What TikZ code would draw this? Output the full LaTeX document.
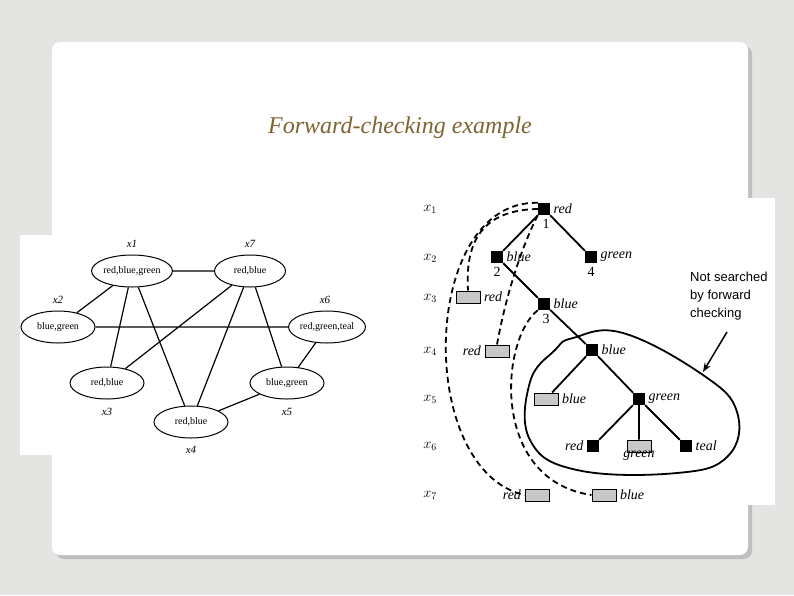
\documentclass[tikz,border=0pt]{standalone}
\usepackage{fontspec}
\setmainfont{Liberation Serif}
\newfontfamily\lsans{Liberation Sans}
\usetikzlibrary{arrows.meta,shapes.geometric}
\definecolor{titlec}{HTML}{7E6432}
\definecolor{bgc}{HTML}{E4E4E2}
\definecolor{boxg}{HTML}{C8C8C8}
\begin{document}
\begin{tikzpicture}[x=1pt,y=-1pt,
  ell/.style={draw,ellipse,line width=1pt,minimum width=74pt,minimum height=32pt,inner sep=0pt,font=\fontsize{10}{10}\selectfont},
  vlab/.style={font=\fontsize{11}{11}\selectfont\itshape},
  bsq/.style={fill=black,minimum size=12pt,inner sep=0pt},
  gsq/.style={draw,line width=1pt,fill=boxg,minimum width=24pt,minimum height=12pt,inner sep=0pt},
  tl/.style={font=\fontsize{14}{14}\selectfont\itshape},
  num/.style={font=\fontsize{14}{14}\selectfont},
  rowl/.style={font=\fontsize{14}{14}\selectfont},
  edge/.style={line width=1.2pt},
  tedge/.style={line width=1.8pt},
  dedge/.style={line width=1.8pt,dash pattern=on 6pt off 4pt}]
\useasboundingbox (0,0) rectangle (794,595);
\fill[bgc] (0,0) rectangle (794,595);
\fill[black!25,rounded corners=8pt] (56,46) rectangle (752,559);
\fill[white,rounded corners=8pt] (52,42) rectangle (748,555);
\node[font=\fontsize{24}{24}\selectfont\itshape,text=titlec] (title) at (400,128) {Forward-checking example};
% left panel
\fill[white] (20,235) rectangle (365,455);
\node[ell] (a1) at (132,271) {red,blue,green};
\node[ell,minimum width=71pt] (a7) at (250,271) {red,blue};
\node[ell] (a2) at (58,327) {blue,green};
\node[ell,minimum width=76pt] (a6) at (327,327) {red,green,teal};
\node[ell] (a3) at (107,383) {red,blue};
\node[ell] (a5) at (287,383) {blue,green};
\node[ell] (a4) at (191,422) {red,blue};
\node[vlab] (l1) at (132,244) {x1};
\node[vlab] (l7) at (250,244) {x7};
\node[vlab] (l2) at (58,300) {x2};
\node[vlab] (l6) at (325,300) {x6};
\node[vlab] (l3) at (107,412) {x3};
\node[vlab] (l5) at (287,412) {x5};
\node[vlab] (l4) at (191,450) {x4};
\draw[edge] (a1)--(a7) (a1)--(a2) (a1)--(a3) (a1)--(a4) (a7)--(a3) (a7)--(a4) (a7)--(a5) (a2)--(a6) (a6)--(a5) (a5)--(a4);
% right panel
\fill[white] (415,198) rectangle (775,505);
\foreach \i/\y in {1/209,2/258,3/298,4/351,5/399,6/446,7/495}
  \node[rowl] (r\i) at (430,\y) {$x_{\i}$};
\node[bsq] (n1) at (544,209) {};
\node[bsq] (n2) at (497,257) {};
\node[bsq] (n4) at (591,257) {};
\node[gsq] (g3) at (468,297) {};
\node[bsq] (n3) at (544,304) {};
\node[gsq] (g4) at (497,351) {};
\node[bsq] (n5) at (592,350) {};
\node[gsq] (g5) at (546,399) {};
\node[bsq] (n6) at (639,399) {};
\node[bsq] (n7) at (593,446) {};
\node[gsq] (g6) at (639,446) {};
\node[bsq] (n8) at (686,446) {};
\node[gsq] (g7a) at (537,495) {};
\node[gsq] (g7b) at (604,495) {};
\node[tl,anchor=west] at (n1.east) {red};
\node[num] at (546,224) {1};
\node[tl,anchor=west] at (n2.east) {blue};
\node[num] at (497,272) {2};
\node[tl,anchor=west] at (n4.east) {green};
\node[num] at (591,272) {4};
\node[tl,anchor=west] at (g3.east) {red};
\node[tl,anchor=west] at (n3.east) {blue};
\node[num] at (546,319) {3};
\node[tl,anchor=east] at (g4.west) {red};
\node[tl,anchor=west] at (n5.east) {blue};
\node[tl,anchor=west] at (g5.east) {blue};
\node[tl,anchor=west] at (n6.east) {green};
\node[tl,anchor=east] at (n7.west) {red};
\node[tl,anchor=north,inner sep=0pt] at ([yshift=2pt]g6.south) {green};
\node[tl,anchor=west] at (n8.east) {teal};
\node[tl,anchor=east] at (g7a.west) {red};
\node[tl,anchor=west] at (g7b.east) {blue};
\draw[tedge] (n1)--(n2) (n1)--(n4) (n2)--(n3) (n3)--(n5) (n5)--(g5) (n5)--(n6) (n6)--(n7) (n6)--(g6) (n6)--(n8);
\draw[dedge] (n1.west) .. controls (472,210) and (466,255) .. (g3.north);
\draw[dedge] (n1.south west) .. controls (520,250) and (505,300) .. (g4.north);
\draw[dedge] (n1.north west) .. controls (420,200) and (415,470) .. (g7a.west);
\draw[dedge] (n3.south west) .. controls (500,340) and (490,480) .. (g7b.west);
\draw[line width=1.8pt] plot[smooth cycle,tension=0.7] coordinates {(573,338) (623,333) (703,375) (737,412) (728,456) (677,473) (577,470) (530,440) (530,382) (555,350)};
\node[font=\lsans\fontsize{13}{18}\selectfont,align=left,anchor=north west,inner sep=0pt] (note) at (690,272) {Not searched\\by forward\\checking};
\coordinate (tip) at (703,372);
\draw[line width=1.5pt,-{Stealth[length=9pt]}] (727,332) -- (tip);
\end{tikzpicture}
\end{document}
